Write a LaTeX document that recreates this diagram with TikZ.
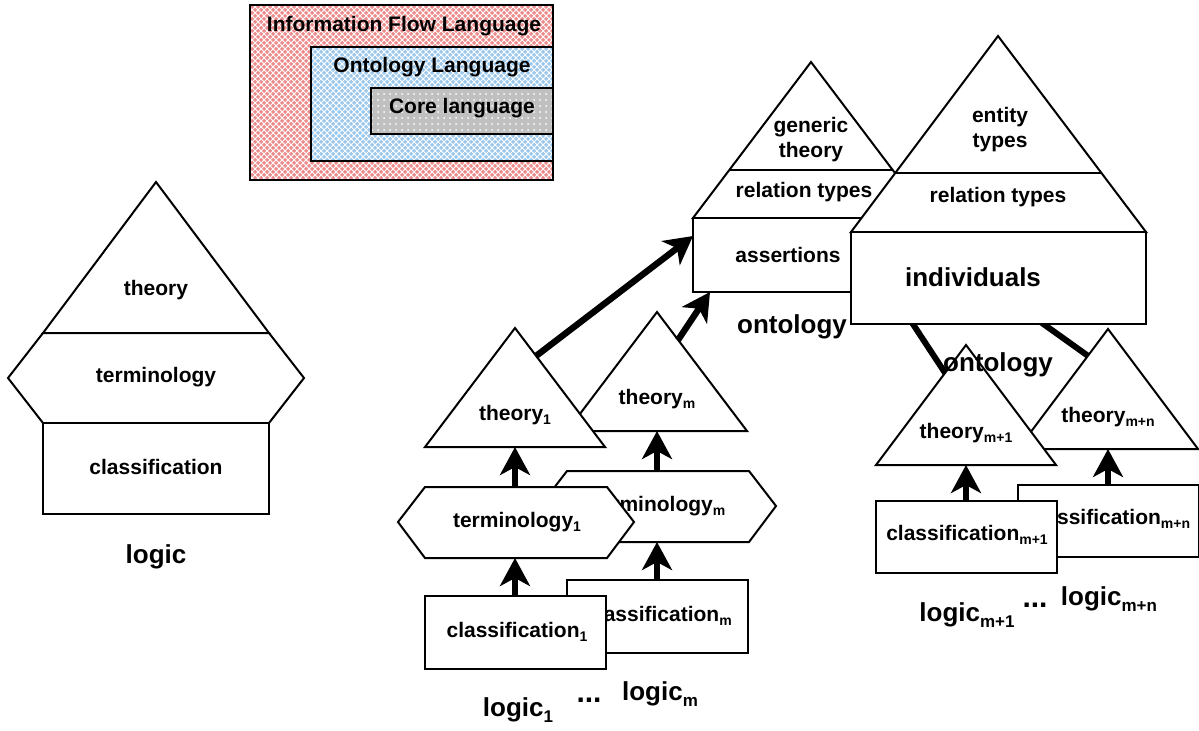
\documentclass[tikz,border=0pt]{standalone}
\usepackage{fontspec}
\setmainfont{Liberation Sans}
\usetikzlibrary{arrows.meta,patterns}
\definecolor{iflpink}{RGB}{236,140,140}
\definecolor{onblue}{RGB}{156,200,236}
\definecolor{coregray}{RGB}{192,192,192}
\newcommand{\lsub}[1]{\raisebox{-0.4ex}{\fontsize{7}{8}\selectfont #1}}
\newcommand{\bsub}[1]{\raisebox{-0.4ex}{\fontsize{8.5}{9}\selectfont #1}}
\tikzset{
  blockpart/.style={draw, line width=1pt, fill=white, line join=miter},
  lbl/.style={font=\fontsize{10.5}{12.5}\selectfont\bfseries, align=center, inner sep=0pt},
  biglbl/.style={font=\fontsize{13}{15}\selectfont\bfseries, inner sep=0pt},
  uparrow/.style={line width=3.2pt, -{Stealth[length=14pt,width=15pt,inset=4pt]}},
  ontlink/.style={line width=3pt},
}
\begin{document}
\begin{tikzpicture}[x=0.5pt,y=-0.5pt]
  \useasboundingbox (0,0) rectangle (1199,730);
  % languages
  \draw[line width=1pt, preaction={fill=iflpink}, pattern=crosshatch, pattern color=white] (250,5) rectangle (553,180);
  \draw[line width=1pt, preaction={fill=onblue}, pattern=crosshatch, pattern color=white] (311,47) rectangle (553,161);
  \draw[line width=1pt, preaction={fill=coregray}, pattern=dots, pattern color=white] (371,88) rectangle (553,134);
  \node[lbl] (ifl) at (404,26) {Information Flow Language};
  \node[lbl] (onl) at (432,67) {Ontology Language};
  \node[lbl] (core) at (462,108) {Core language};

  % one logic
  \draw[blockpart] (43,333) -- (156,182) -- (269,333) -- cycle;
  \draw[blockpart] (43,333) -- (8,378) -- (43,423) -- (269,423) -- (304,378) -- (269,333) -- cycle;
  \draw[blockpart] (43,423) rectangle (269,514);
  \node[lbl] (theory) at (156,290) {theory};
  \node[lbl] (termin) at (156,377) {terminology};
  \node[lbl] (classif) at (156,467) {classification};
  \node[biglbl] (logic) at (156,557) {logic};

  % logics 1..m
  \foreach \dx/\dy/\s/\n in {142/-16/m/m, 0/0/1/a} {
    \begin{scope}[shift={(\dx,\dy)}]
      \draw[blockpart] (515,328) -- (605,447) -- (425,447) -- cycle;
      \draw[blockpart] (398,522) -- (425,487) -- (607,487) -- (634,522) -- (607,558) -- (425,558) -- cycle;
      \draw[blockpart] (425,596) rectangle (606,669);
      \node[lbl] (theory\n) at (515,415) {theory\lsub{\s}};
      \node[lbl] (termin\n) at (517,522) {terminology\lsub{\s}};
      \node[lbl] (classif\n) at (517,632) {classification\lsub{\s}};
      \node[biglbl] (logic\n) at (518,710) {logic\bsub{\s}};
      \coordinate (clt\n) at (515,596);
      \coordinate (hxb\n) at (515,558);
      \coordinate (hxt\n) at (515,487);
      \coordinate (thb\n) at (515,447);
      \coordinate (the\n) at (536,356);
      \draw[uparrow] (clt\n) -- (hxb\n);
      \draw[uparrow] (hxt\n) -- (thb\n);
    \end{scope}
  }
  \node[biglbl, font=\fontsize{15}{15}\selectfont\bfseries] (dotsa) at (589,700) {...};

  % generic ontology
  \draw[blockpart] (811,62) -- (929,218) -- (693,218) -- cycle;
  \draw[line width=1pt] (729,170) -- (893,170);
  \draw[blockpart] (693,218) rectangle (929,292);
  \node[lbl] (gent) at (811,140) {generic\\theory};
  \node[lbl] (relt) at (804,192) {relation types};
  \node[lbl] (asrt) at (788,255) {assertions};
  \node[biglbl] (ontol) at (792,327) {ontology};
  \coordinate (asw) at (693,236);
  \coordinate (ass) at (710,292);
  \draw[uparrow] (thea) -- (asw);
  \draw[uparrow] (them) -- (ass);

  % links under the big ontology
  \coordinate (indl) at (905,312);
  \coordinate (indr) at (1035,318);
  \coordinate (tmo) at (955,388);
  \coordinate (tmn) at (1105,368);
  \draw[ontlink] (indl) -- (tmo);
  \draw[ontlink] (indr) -- (tmn);

  % big ontology
  \draw[blockpart] (998,36) -- (1146,232) -- (851,232) -- cycle;
  \draw[line width=1pt] (895,173) -- (1101,173);
  \draw[blockpart] (851,232) rectangle (1146,324);
  \node[lbl] (entt) at (1000,130) {entity\\types};
  \node[lbl] (relb) at (998,197) {relation types};
  \node[biglbl] (indiv) at (973,277) {individuals};

  % logics m+1..m+n
  \foreach \dx/\dy/\s/\n in {142/-16/m+n/mn, 0/0/m+1/mo} {
    \begin{scope}[shift={(\dx,\dy)}]
      \draw[blockpart] (966,345) -- (1056,465) -- (876,465) -- cycle;
      \draw[blockpart] (876,501) rectangle (1057,573);
      \node[lbl] (theory\n) at (966,433) {theory\lsub{\s}};
      \node[lbl] (classif\n) at (967,535) {classification\lsub{\s}};
      \node[biglbl] (logic\n) at (967,615) {logic\bsub{\s}};
      \coordinate (clt\n) at (966,501);
      \coordinate (thb\n) at (966,465);
      \draw[uparrow] (clt\n) -- (thb\n);
    \end{scope}
  }
  \node[biglbl, font=\fontsize{15}{15}\selectfont\bfseries] (dotsb) at (1035,605) {...};
  \node[biglbl] (ontor) at (998,365) {ontology};
\end{tikzpicture}
\end{document}
